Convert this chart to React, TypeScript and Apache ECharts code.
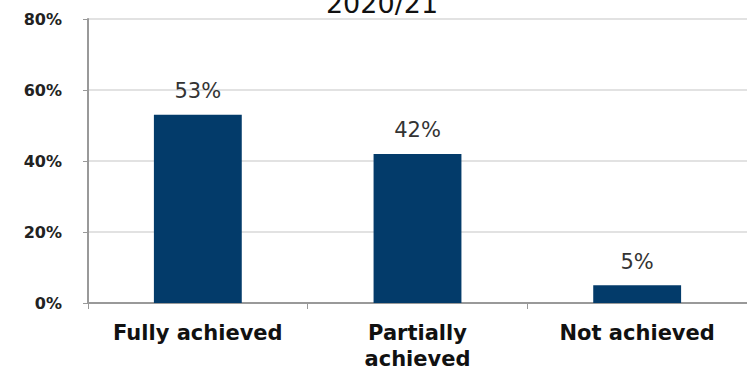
import React, { useEffect, useRef } from "react";
import * as echarts from "echarts";

const categories = ["Fully achieved", "Partially\nachieved", "Not achieved"];
const values = [53, 42, 5];
const yTicks = [0, 20, 40, 60, 80];
const title = "2020/21";

export default function App() {
  const ref = useRef<HTMLDivElement>(null);
  useEffect(() => {
    const chart = echarts.init(ref.current!, null, { renderer: "svg" });
    chart.setOption({
      animation: false,
      title: {
        text: title,
        left: 377,
        top: -15,
        textAlign: "center",
        textStyle: { fontFamily: "DejaVu Sans", fontSize: 27, fontWeight: "normal", color: "#111" },
      },
      grid: { left: 88, right: -4, top: 19, bottom: 72 },
      xAxis: {
        type: "category",
        data: categories,
        axisLine: { lineStyle: { color: "#999", width: 2 } },
        axisTick: { show: true, interval: 0, length: 6, lineStyle: { color: "#999" } },
        axisLabel: {
          interval: 0,
          hideOverlap: false,
          fontFamily: "DejaVu Sans",
          fontWeight: "bold",
          fontSize: 21,
          color: "#111",
          margin: 17,
          lineHeight: 26,
        },
      },
      yAxis: {
        type: "value",
        min: yTicks[0],
        max: yTicks[yTicks.length - 1],
        interval: 20,
        axisLine: { show: true, lineStyle: { color: "#999", width: 2 } },
        axisTick: { show: true, length: 5, lineStyle: { color: "#999" } },
        splitLine: { lineStyle: { color: "#e2e2e2", width: 2 } },
        axisLabel: {
          formatter: "{value}%",
          fontFamily: "DejaVu Sans",
          fontWeight: "bold",
          fontSize: 16,
          color: "#222",
          margin: 26,
        },
      },
      series: [
        {
          type: "bar",
          data: values,
          barWidth: "40%",
          itemStyle: { color: "#033b6a" },
          label: {
            show: true,
            position: "top",
            distance: 13,
            formatter: "{c}%",
            fontFamily: "DejaVu Sans",
            fontSize: 21,
            color: "#333",
          },
        },
      ],
    });
    return () => chart.dispose();
  }, []);
  return <div ref={ref} style={{ width: 747, height: 375, position: "absolute", left: 0, top: 0 }} />;
}
